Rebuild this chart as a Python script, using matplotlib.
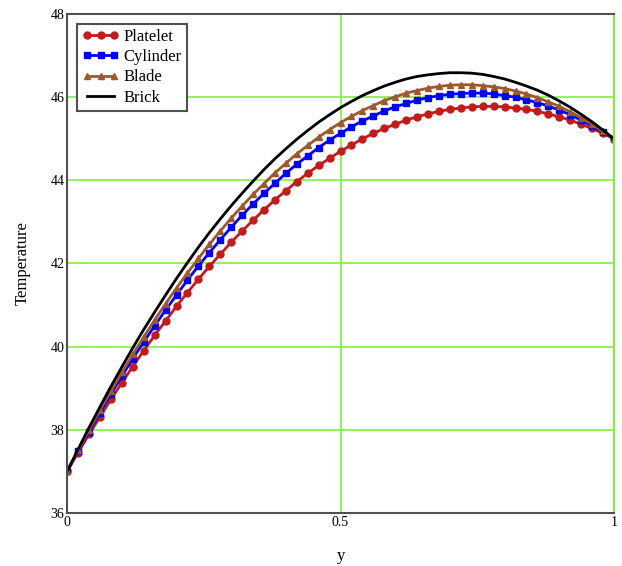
import numpy as np
import matplotlib.pyplot as plt

# position along y (0..1), one marker every 0.02
y_pos = np.round(np.arange(0, 51) * 0.02, 2)

platelet = [37.00, 37.45, 37.89, 38.31, 38.73, 39.13, 39.52, 39.90, 40.27, 40.62,
            40.97, 41.30, 41.62, 41.93, 42.22, 42.51, 42.78, 43.04, 43.29, 43.53,
            43.75, 43.97, 44.17, 44.36, 44.53, 44.70, 44.85, 45.00, 45.13, 45.25,
            45.35, 45.45, 45.53, 45.60, 45.66, 45.71, 45.74, 45.77, 45.78, 45.78,
            45.77, 45.74, 45.71, 45.66, 45.60, 45.53, 45.45, 45.35, 45.25, 45.13,
            45.00]
cylinder = [37.00, 37.48, 37.95, 38.41, 38.86, 39.29, 39.71, 40.11, 40.50, 40.88,
            41.24, 41.60, 41.94, 42.26, 42.57, 42.87, 43.16, 43.43, 43.69, 43.93,
            44.17, 44.39, 44.59, 44.79, 44.97, 45.13, 45.29, 45.43, 45.55, 45.67,
            45.77, 45.85, 45.93, 45.99, 46.04, 46.07, 46.09, 46.10, 46.10, 46.08,
            46.04, 46.00, 45.94, 45.87, 45.79, 45.69, 45.58, 45.45, 45.31, 45.16,
            45.00]
blade = [37.00, 37.50, 37.99, 38.47, 38.93, 39.38, 39.81, 40.23, 40.64, 41.03,
         41.41, 41.77, 42.12, 42.46, 42.78, 43.09, 43.38, 43.66, 43.92, 44.18,
         44.41, 44.64, 44.84, 45.04, 45.22, 45.39, 45.54, 45.68, 45.80, 45.92,
         46.01, 46.10, 46.16, 46.22, 46.26, 46.29, 46.30, 46.30, 46.28, 46.25,
         46.21, 46.15, 46.08, 45.99, 45.89, 45.78, 45.65, 45.51, 45.35, 45.18,
         45.00]
brick = [37.00, 37.53, 38.05, 38.55, 39.04, 39.51, 39.97, 40.41, 40.83, 41.24,
         41.64, 42.02, 42.39, 42.74, 43.07, 43.39, 43.69, 43.98, 44.26, 44.52,
         44.76, 44.99, 45.20, 45.40, 45.58, 45.75, 45.90, 46.04, 46.16, 46.27,
         46.36, 46.44, 46.50, 46.54, 46.57, 46.59, 46.59, 46.58, 46.55, 46.50,
         46.44, 46.36, 46.27, 46.17, 46.05, 45.91, 45.76, 45.59, 45.41, 45.21,
         45.00]

y_ticks = [36, 38, 40, 42, 44, 46, 48]
x_ticks = [0, 0.5, 1]
x_tick_labels = ["0", "0.5", "1"]

plt.rcParams['font.family'] = ['Liberation Serif', 'DejaVu Serif']

fig = plt.figure(figsize=(6.22, 5.66), dpi=100)
ax = fig.add_axes([0.108, 0.094, 0.879, 0.881])

green = '#80f040'
ax.set_xlim(0, 1)
ax.set_ylim(36, 48)
ax.set_xticks(x_ticks)
ax.set_xticklabels(x_tick_labels)
ax.set_yticks(y_ticks)
ax.grid(True, color=green, linewidth=1.2)
ax.set_axisbelow(True)
ax.tick_params(length=0, labelsize=10, pad=2)

ax.plot(y_pos, platelet, color='#c41a1a', lw=2, marker='o', ms=5, label='Platelet')
ax.plot(y_pos, cylinder, color='#0000ff', lw=2, marker='s', ms=5, label='Cylinder')
ax.plot(y_pos, blade, color='#a0582a', lw=2, marker='^', ms=5, label='Blade')
ax.plot(y_pos, brick, color='black', lw=2, label='Brick')

for side in ['left', 'bottom', 'top']:
    ax.spines[side].set_color('#505050')
    ax.spines[side].set_linewidth(1.5)
ax.spines['right'].set_color(green)
ax.spines['right'].set_linewidth(1.5)

ax.set_xlabel("y", fontsize=12, labelpad=14)
ax.set_ylabel("Temperature", fontsize=12, labelpad=14)

leg = ax.legend(loc='upper left', fontsize=12, numpoints=3, handlelength=2.2,
                fancybox=False, framealpha=1, edgecolor='#505050',
                borderaxespad=0.6, handletextpad=0.3, labelspacing=0.25,
                borderpad=0.3)
leg.get_frame().set_linewidth(1.5)

fig.savefig("out.png", dpi=100)
